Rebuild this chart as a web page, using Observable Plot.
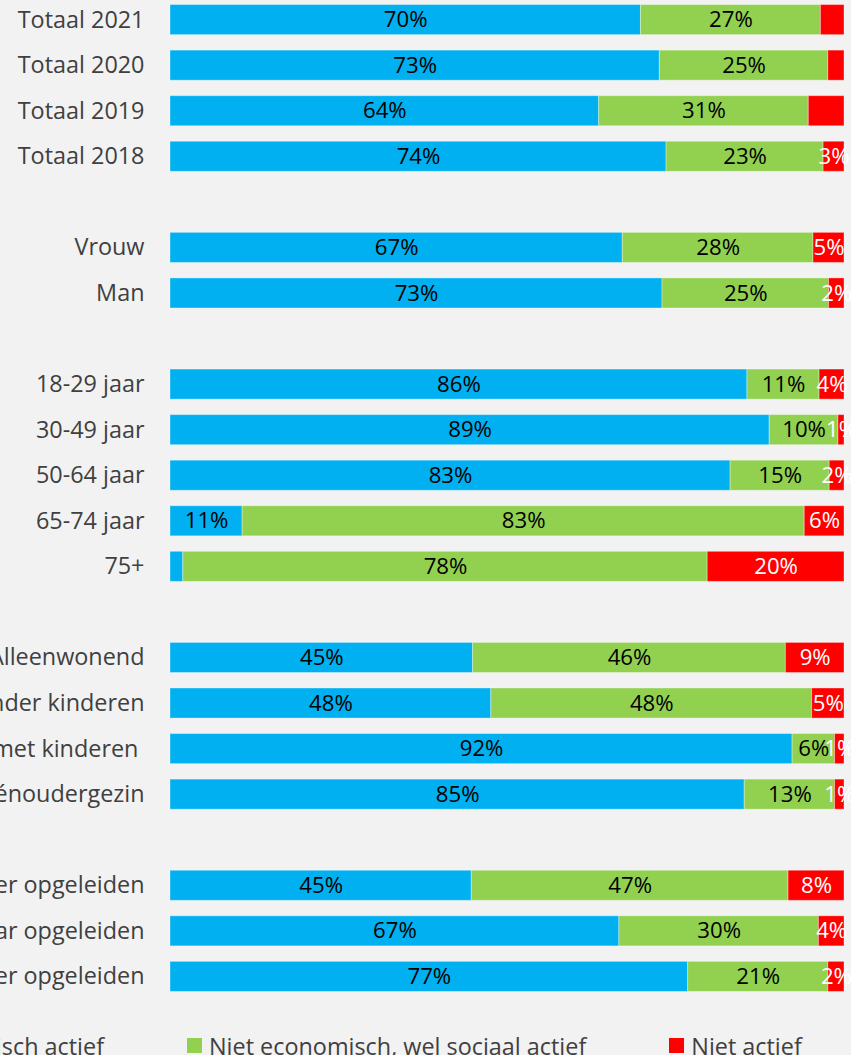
<!DOCTYPE html>
<html>
<head>
<meta charset="utf-8">
<script src="https://cdn.jsdelivr.net/npm/d3@7"></script>
<script src="https://cdn.jsdelivr.net/npm/@observablehq/plot@0.6"></script>
<style>
  html, body { margin: 0; padding: 0; background: #f2f2f2; overflow: hidden; }
  #wrap { position: relative; width: 851px; height: 1055px; overflow: hidden; }
  #chart svg { display: block; background: #f2f2f2; }
  #legend { position: absolute; left: 187px; top: 1030px; height: 31px; display: flex; align-items: center; gap: 83px;
            font-family: "Open Sans", sans-serif; font-size: 23.4px; color: #404040; white-space: nowrap; }
  .item { display: flex; align-items: center; gap: 7px; }
  .sw { width: 15px; height: 15px; display: inline-block; }
  #firstItem { position: absolute; right: calc(100% + 83px); top: 0; height: 31px; }
</style>
</head>
<body>
<div id="wrap">
  <div id="chart"></div>
  <div id="legend"></div>
</div>
<script>
const categories = [
  "Totaal 2021", "Totaal 2020", "Totaal 2019", "Totaal 2018",
  "Vrouw", "Man",
  "18-29 jaar", "30-49 jaar", "50-64 jaar", "65-74 jaar", "75+",
  "Alleenwonend", "Samenwonend zonder kinderen", "Samenwonend met kinderen ", "Eénoudergezin",
  "Lager opgeleiden", "Middelbaar opgeleiden", "Hoger opgeleiden"
];
const groupSizes = [4, 2, 5, 4, 3];
const seriesNames = ["Economisch actief", "Niet economisch, wel sociaal actief", "Niet actief"];
const seriesColors = ["#00b0f0", "#92d050", "#ff0000"];
const labelColors = ["#000000", "#000000", "#ffffff"];

const economisch = [69.8, 72.6, 63.6, 73.6, 67.1, 73.0, 85.6, 88.9, 83.1, 10.7, 1.9, 44.9, 47.6, 92.3, 85.2, 44.7, 66.6, 76.8];
const sociaal    = [26.7, 25.0, 31.1, 23.3, 28.3, 24.7, 10.7, 10.2, 14.7, 83.4, 77.8, 46.4, 47.6, 6.3, 13.4, 47.0, 29.6, 20.8];
const nietActief = [3.5, 2.4, 5.3, 3.1, 4.6, 2.3, 3.7, 0.9, 2.2, 5.9, 20.3, 8.7, 4.8, 1.4, 1.4, 8.3, 3.8, 2.4];
const hiddenLabels = [["Totaal 2021", 2], ["Totaal 2020", 2], ["Totaal 2019", 2], ["75+", 0]];

// build y domain with blank spacer rows between groups
const domain = [];
let k = 0;
groupSizes.forEach((n, g) => {
  if (g > 0) domain.push("_gap" + g);
  for (let i = 0; i < n; i++) domain.push(categories[k++]);
});

const seriesValues = [economisch, sociaal, nietActief];
const data = [];
categories.forEach((c, i) => {
  seriesValues.forEach((arr, s) => {
    const hidden = hiddenLabels.some(([hc, hs]) => hc === c && hs === s);
    data.push({row: c, s, series: seriesNames[s], value: arr[i],
               label: hidden ? "" : Math.round(arr[i]) + "%"});
  });
});

const font = "'Open Sans', sans-serif";
const plot = Plot.plot({
  width: 851,
  height: 996,
  marginLeft: 170,
  marginRight: 7,
  marginTop: 0,
  marginBottom: 0,
  style: {background: "#f2f2f2", fontFamily: font, color: "#404040", overflow: "visible"},
  x: {domain: [0, 100], axis: null},
  y: {domain, paddingInner: 0.34, paddingOuter: 0.1, round: false, label: null},
  color: {domain: seriesNames, range: seriesColors},
  marks: [
    Plot.barX(data, Plot.stackX({
      x: "value", y: "row", fill: "series", order: seriesNames,
      stroke: "#ffffff", strokeOpacity: 0.35, strokeWidth: 1
    })),
    Plot.text(data, Plot.stackX({
      x: "value", y: "row", order: seriesNames, text: "label",
      fill: d => labelColors[d.s], fontSize: 22.2, fontFamily: font, textAnchor: "middle"
    })),
    Plot.axisY({
      tickSize: 0, tickPadding: 26, fontSize: 23.4, fontFamily: font,
      tickFormat: d => d.startsWith("_gap") ? "" : d, label: null
    })
  ]
});
document.getElementById("chart").appendChild(plot);

// legend
const legend = document.getElementById("legend");
seriesNames.forEach((name, s) => {
  const item = document.createElement("div");
  item.className = "item";
  if (s === 0) item.id = "firstItem";
  const sw = document.createElement("span");
  sw.className = "sw";
  sw.style.background = seriesColors[s];
  const t = document.createElement("span");
  t.textContent = name;
  item.appendChild(sw);
  item.appendChild(t);
  legend.appendChild(item);
});
</script>
</body>
</html>
